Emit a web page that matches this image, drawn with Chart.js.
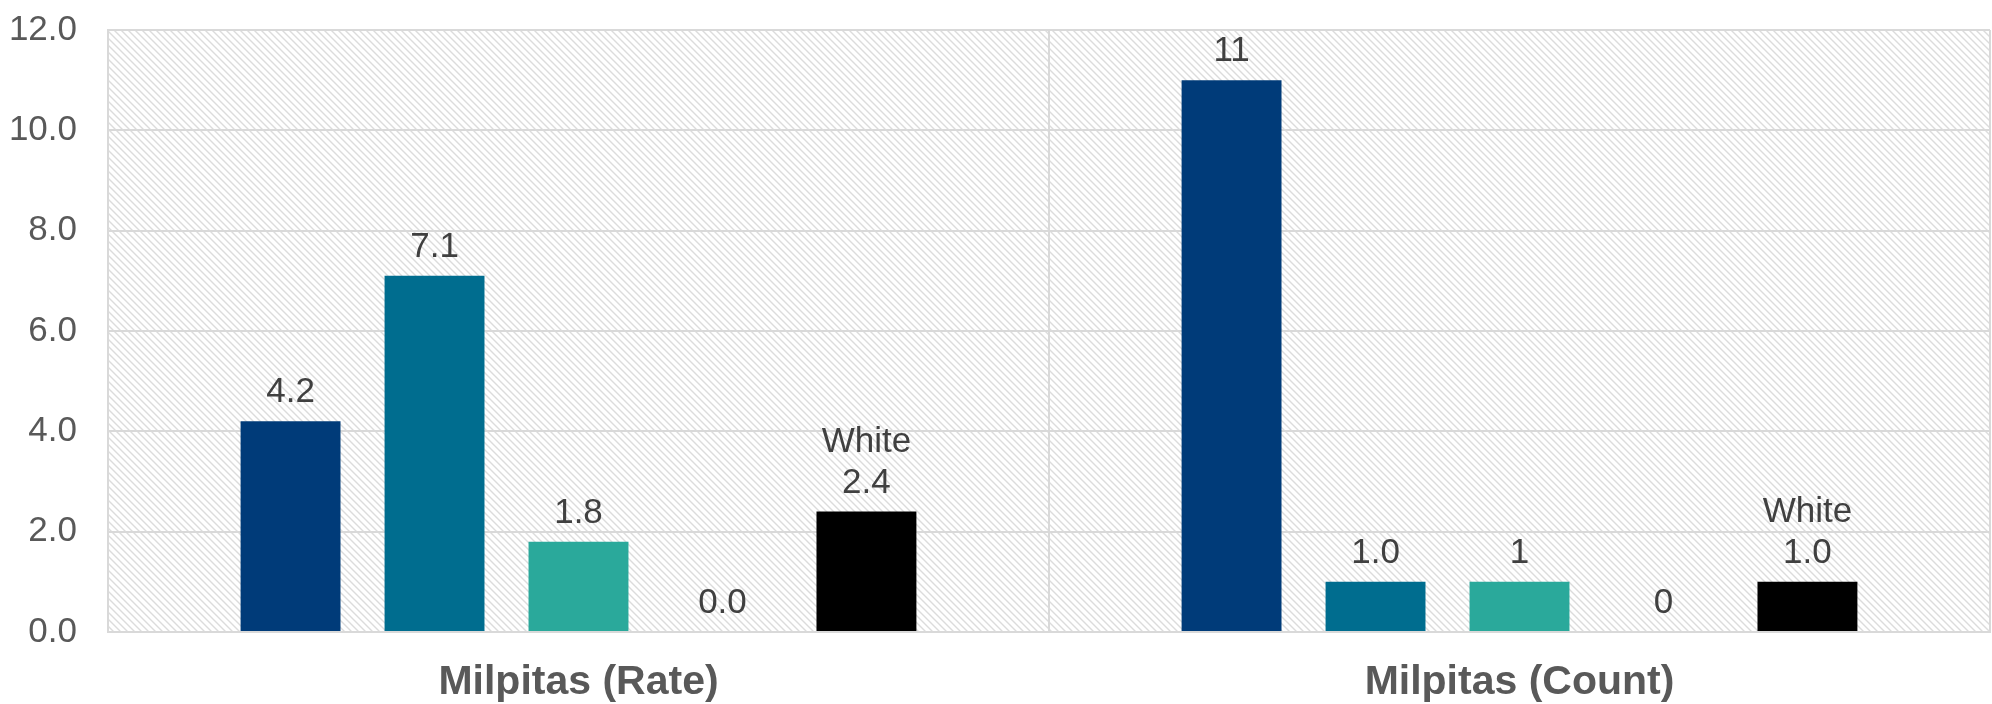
<!DOCTYPE html>
<html>
<head>
  <meta charset="UTF-8" />
  <title>Milpitas Rate and Count</title>
  <script src="https://cdn.jsdelivr.net/npm/chart.js"></script>
  <style>
    body {
      margin: 0;
      background: white;
    }
    #wrap {
      width: 1992px;
      height: 704px;
    }
  </style>
</head>
<body>
  <div id="wrap"><canvas id="chart" width="1992" height="704"></canvas></div>

  <script>
    const categories = ['Milpitas (Rate)', 'Milpitas (Count)'];
    const seriesNames = ['Series 1', 'Series 2', 'Series 3', 'Series 4', 'White'];
    const seriesColors = ['#003B79', '#006D8F', '#2AA99B', '#7F7F7F', '#000000'];
    const series1 = [4.2, 11];
    const series2 = [7.1, 1.0];
    const series3 = [1.8, 1];
    const series4 = [0.0, 0];
    const series5 = [2.4, 1.0];
    // labels printed above each bar, as they appear in the picture
    const labels1 = ['4.2', '11'];
    const labels2 = ['7.1', '1.0'];
    const labels3 = ['1.8', '1'];
    const labels4 = ['0.0', '0'];
    const labels5 = ['White\n2.4', 'White\n1.0'];
    const yTicks = [0, 2, 4, 6, 8, 10, 12];

    const allValues = [series1, series2, series3, series4, series5];
    const allLabels = [labels1, labels2, labels3, labels4, labels5];

    // light diagonal hatch behind the plot
    function makeHatch() {
      const n = 7;
      const c = document.createElement('canvas');
      c.width = n; c.height = n;
      const g = c.getContext('2d');
      g.fillStyle = '#ffffff';
      g.fillRect(0, 0, n, n);
      g.strokeStyle = '#dcdcdc';
      g.lineWidth = 1.4;
      g.beginPath();
      g.moveTo(-1, -1); g.lineTo(n + 1, n + 1);
      g.moveTo(-1, n - 1); g.lineTo(1, n + 1);
      g.moveTo(n - 1, -1); g.lineTo(n + 1, 1);
      g.stroke();
      return g.createPattern(c, 'repeat');
    }

    const hatchBg = {
      id: 'hatchBg',
      beforeDraw(chart) {
        const a = chart.chartArea;
        const ctx = chart.ctx;
        ctx.save();
        ctx.fillStyle = makeHatch();
        ctx.fillRect(a.left, a.top, a.right - a.left, a.bottom - a.top);
        ctx.restore();
      }
    };

    const barLabels = {
      id: 'barLabels',
      afterDatasetsDraw(chart) {
        const ctx = chart.ctx;
        ctx.save();
        ctx.font = '35px "Liberation Sans", Arial, sans-serif';
        ctx.fillStyle = '#404040';
        ctx.textAlign = 'center';
        ctx.textBaseline = 'alphabetic';
        chart.data.datasets.forEach((ds, i) => {
          chart.getDatasetMeta(i).data.forEach((bar, j) => {
            const lines = allLabels[i][j].split('\n');
            let y = bar.y - 19;
            for (let k = lines.length - 1; k >= 0; k--) {
              ctx.fillText(lines[k], bar.x, y);
              y -= 41;
            }
          });
        });
        ctx.restore();
      }
    };

    new Chart(document.getElementById('chart'), {
      type: 'bar',
      data: {
        labels: categories,
        datasets: allValues.map((vals, i) => ({
          label: seriesNames[i],
          data: vals,
          backgroundColor: seriesColors[i],
          categoryPercentage: 0.765,
          barPercentage: 0.694
        }))
      },
      options: {
        responsive: false,
        animation: false,
        layout: { padding: { top: 30, right: 2, left: 0, bottom: 0 } },
        plugins: {
          legend: { display: false },
          tooltip: { enabled: false }
        },
        scales: {
          x: {
            grid: { color: '#d9d9d9', lineWidth: 2, drawTicks: false, offset: true },
            border: { color: '#d9d9d9', width: 2 },
            ticks: {
              color: '#595959',
              padding: 26,
              font: { family: '"Liberation Sans", Arial, sans-serif', size: 41, weight: 'bold' }
            },
            afterFit(scale) { scale.height = 72; }
          },
          y: {
            min: 0,
            max: 12,
            afterBuildTicks(scale) { scale.ticks = yTicks.map(v => ({ value: v })); },
            // invisible tick marks give the gap between labels and plot
            grid: { color: '#d9d9d9', lineWidth: 2, drawTicks: true, tickLength: 31, tickColor: 'transparent' },
            border: { color: '#d9d9d9', width: 2 },
            ticks: {
              color: '#595959',
              padding: 0,
              font: { family: '"Liberation Sans", Arial, sans-serif', size: 35 },
              callback: v => Number(v).toFixed(1)
            },
            afterFit(scale) { scale.width = 108; }
          }
        }
      },
      plugins: [hatchBg, barLabels]
    });
  </script>
</body>
</html>
